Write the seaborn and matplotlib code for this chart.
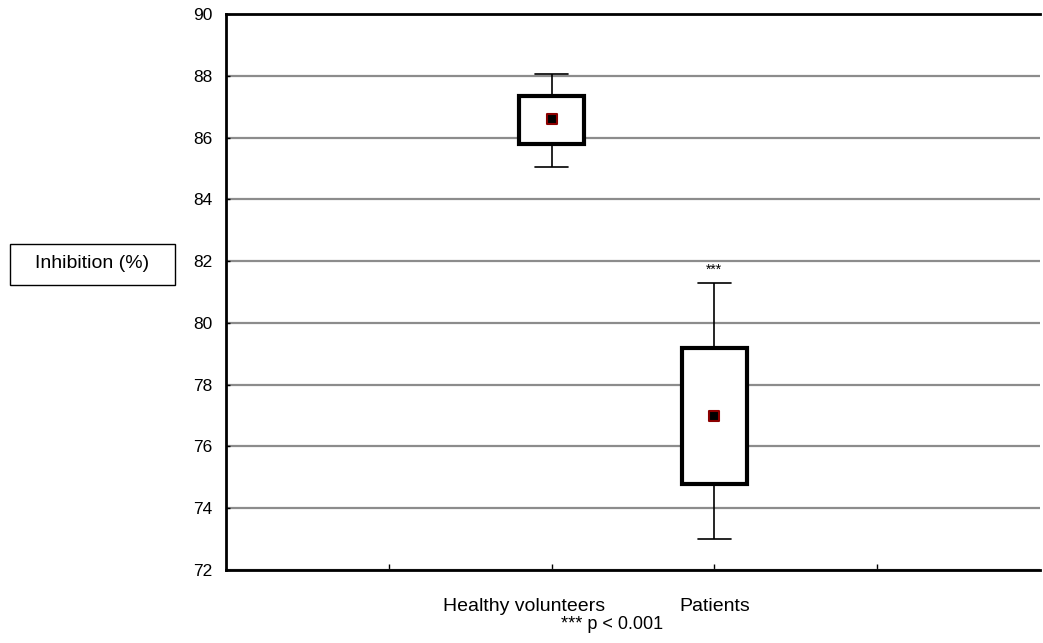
import pandas as pd
import numpy as np
import matplotlib
matplotlib.use("Agg")
import matplotlib.pyplot as plt
from matplotlib.patches import Rectangle
import seaborn as sns

# valeurs (min, Q1, centre, Q3, max)
groups = ["Healthy volunteers", "Patients"]
group_pos = [2, 3]
low_whisker = [85.05, 73.0]
q1 = [85.8, 74.8]
center = [86.6, 77.0]
q3 = [87.35, 79.2]
high_whisker = [88.05, 81.3]
stars = ["", "***"]
y_ticks = [72, 74, 76, 78, 80, 82, 84, 86, 88, 90]

# 5 points par groupe -> quartiles exacts
rows = []
for i, g in enumerate(groups):
    for v in [low_whisker[i], q1[i], center[i], q3[i], high_whisker[i]]:
        rows.append({"pos": group_pos[i], "val": v})
df = pd.DataFrame(rows)

sns.set_style("white")
plt.rcParams['font.family'] = ['Liberation Sans', 'DejaVu Sans']
plt.rcParams['text.color'] = 'black'
plt.rcParams['xtick.color'] = 'black'
plt.rcParams['ytick.color'] = 'black'

fig = plt.figure(figsize=(10.43, 6.43), dpi=100)
ax = fig.add_axes([0.2167, 0.1135, 0.7803, 0.8647])

sns.boxplot(data=df, x="pos", y="val", native_scale=True, width=0.4,
            color="white", linecolor="black", whis=10, showfliers=False,
            boxprops={"linewidth": 3, "facecolor": "white", "edgecolor": "black"},
            whiskerprops={"linewidth": 1.2, "color": "black"},
            capprops={"linewidth": 1.2, "color": "black"},
            medianprops={"linewidth": 0, "alpha": 0},
            ax=ax, zorder=3)

sns.scatterplot(x=group_pos, y=center, marker="s", s=45, color="black",
                edgecolor="#8B0000", linewidth=1.5, ax=ax, zorder=5, legend=False)

for i in range(len(groups)):
    if stars[i]:
        ax.annotate(stars[i], (group_pos[i], high_whisker[i]), xytext=(0, 4),
                    textcoords="offset points", ha="center", va="bottom", fontsize=10)

ax.set_xlim(0, 5)
ax.set_ylim(72, 90)
ax.set_yticks(y_ticks)
ax.set_xticks([1, 2, 3, 4])
ax.set_xticklabels([])
ax.set_xlabel("")
ax.set_ylabel("")
ax.grid(axis="y", color="#8c8c8c", linewidth=1.6)
ax.set_axisbelow(True)
ax.tick_params(axis="y", left=True, labelsize=12.5, length=3, direction="in", width=1, pad=10)
ax.tick_params(axis="x", bottom=True, length=4, direction="in", width=1)
for s in ["left", "bottom", "top"]:
    ax.spines[s].set_linewidth(2)
    ax.spines[s].set_color("black")
ax.spines["right"].set_visible(False)

# noms des groupes sous l'axe
label_shift = [-0.17, 0.0]
for i, g in enumerate(groups):
    ax.text(group_pos[i] + label_shift[i], -0.066, g, transform=ax.get_xaxis_transform(),
            ha="center", va="center", fontsize=14)
fig.text(0.587, 0.028, "*** p < 0.001", ha="center", va="center", fontsize=13)

# etiquette de l'axe y dans un cadre
fig.patches.append(Rectangle((10 / 1043, 1 - 285 / 643), 165 / 1043, 41 / 643,
                             transform=fig.transFigure, fill=False,
                             edgecolor="black", linewidth=1))
fig.text(92 / 1043, 1 - 264 / 643, "Inhibition (%)", ha="center", va="center", fontsize=14)

fig.savefig("out.png", dpi=100)
